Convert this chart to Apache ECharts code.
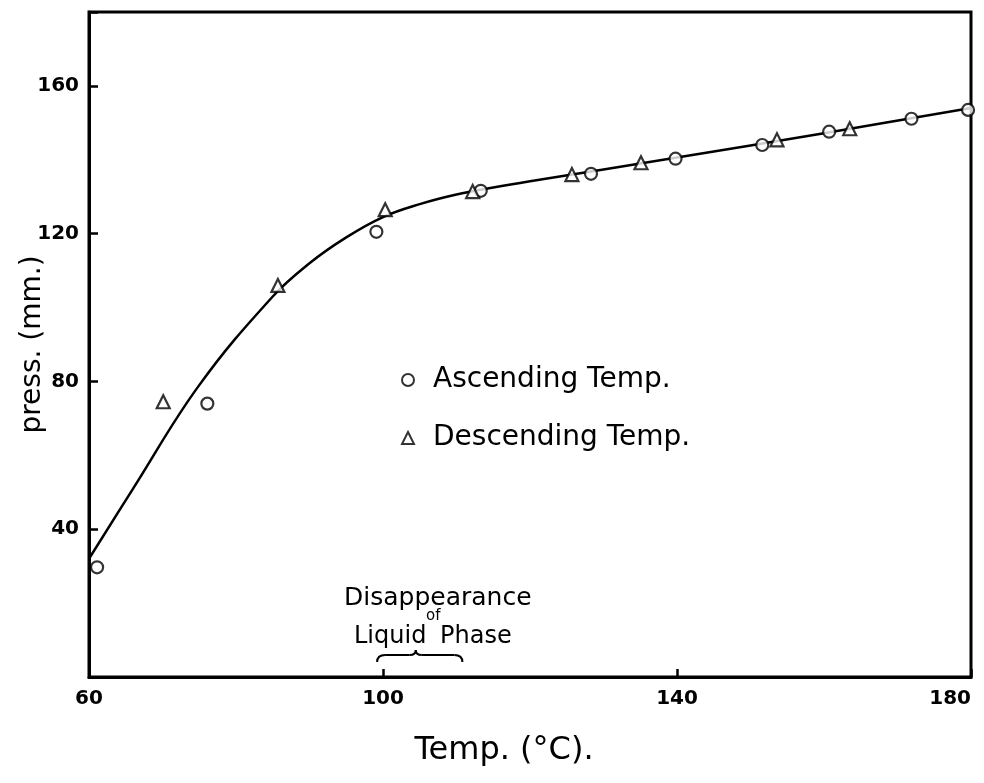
<!DOCTYPE html>
<html>
<head>
<meta charset="utf-8">
<script src="https://cdn.jsdelivr.net/npm/echarts@6/dist/echarts.min.js"></script>
<style>
html,body{margin:0;padding:0;background:#fff;}
#chart{width:984px;height:783px;}
</style>
</head>
<body>
<div id="chart"></div>
<script>
// Ascending temperature measurements [temp °C, pressure mm]
const ascendingTemp = [61.1, 76.1, 99.1, 113.3, 128.3, 139.8, 151.6, 160.7, 171.9, 179.6];
const ascendingPress = [29.7, 74.0, 120.5, 131.6, 136.2, 140.3, 144.0, 147.6, 151.1, 153.5];
// Descending temperature measurements
const descendingTemp = [70.1, 85.7, 100.3, 112.2, 125.7, 135.1, 153.6, 163.5];
const descendingPress = [74.5, 106.0, 126.5, 131.4, 136.0, 139.2, 145.4, 148.4];
// Hand-drawn fitted curve
const curveTemp = [60, 66, 75, 85, 90, 95, 100, 105, 110, 115, 120, 140, 160, 180];
const curvePress = [32, 51, 79, 103, 112, 119, 124.5, 128, 130.6, 132.5, 134.2, 140.6, 147.2, 154];
// Axis ticks
const xTicks = [60, 100, 140, 180];
const yTicks = [40, 80, 120, 160];
// Liquid phase disappearance range (brace)
const braceRange = [99.2, 110.8];

const zip = (a, b) => a.map((v, i) => [v, b[i]]);
const chart = echarts.init(document.getElementById('chart'));
const font = '"DejaVu Sans", sans-serif';

chart.setOption({
  animation: false,
  backgroundColor: '#fff',
  grid: { left: 89, right: 13, top: 12, bottom: 106, show: true, borderColor: '#000', borderWidth: 3,
    backgroundColor: 'transparent', containLabel: false, outerBoundsMode: 'none' },
  legend: {
    orient: 'vertical', left: 396, top: 361, itemGap: 30, itemWidth: 12, itemHeight: 12,
    textStyle: { fontFamily: font, fontSize: 28, color: '#000', padding: [0, 0, 0, 14] },
    data: [
      { name: 'Ascending Temp.', icon: 'circle', itemStyle: { color: '#fff', borderColor: '#000', borderWidth: 2 } },
      { name: 'Descending Temp.', icon: 'triangle', itemStyle: { color: '#fff', borderColor: '#000', borderWidth: 2 } }
    ]
  },
  xAxis: {
    type: 'value', min: 60, max: 180, interval: 40,
    name: 'Temp. (°C).', nameLocation: 'middle', nameGap: 58, nameMoveOverlap: false,
    nameTextStyle: { fontFamily: font, fontSize: 32, color: '#000', padding: [0, 52, 0, 0] },
    axisLine: { show: true, lineStyle: { color: '#000', width: 3 } },
    axisTick: { show: true, inside: true, length: 8, lineStyle: { color: '#000', width: 2.5 } },
    axisLabel: { fontFamily: font, fontSize: 20, fontWeight: 'bold', color: '#000', margin: 12,
      alignMaxLabel: 'right',
      formatter: v => xTicks.includes(v) ? String(v) : '' },
    splitLine: { show: false }
  },
  yAxis: {
    type: 'value', min: 0, max: 180, interval: 40,
    name: 'press. (mm.)', nameLocation: 'middle', nameGap: 42, nameMoveOverlap: false,
    nameTextStyle: { fontFamily: font, fontSize: 28, color: '#000' },
    axisLine: { show: true, lineStyle: { color: '#000', width: 3 } },
    axisTick: { show: true, inside: true, length: 9, lineStyle: { color: '#000', width: 2.5 } },
    axisLabel: { fontFamily: font, fontSize: 20, fontWeight: 'bold', color: '#000', margin: 10,
      formatter: v => yTicks.includes(v) ? String(v) : '' },
    splitLine: { show: false }
  },
  series: [
    { name: 'curve', type: 'line', data: zip(curveTemp, curvePress), smooth: 0.4, showSymbol: false,
      lineStyle: { color: '#000', width: 2.5 }, z: 2, silent: true },
    { name: 'Ascending Temp.', type: 'scatter', data: zip(ascendingTemp, ascendingPress), symbol: 'circle', symbolSize: 12,
      itemStyle: { color: '#fff', borderColor: '#000', borderWidth: 2.2 }, z: 3 },
    { name: 'Descending Temp.', type: 'scatter', data: zip(descendingTemp, descendingPress), symbol: 'triangle', symbolSize: 13,
      itemStyle: { color: '#fff', borderColor: '#000', borderWidth: 2.2 }, z: 3 }
  ]
});

// annotation: brace under "Liquid Phase"
const p0 = chart.convertToPixel({ gridIndex: 0 }, [braceRange[0], 0]);
const p1 = chart.convertToPixel({ gridIndex: 0 }, [braceRange[1], 0]);
const xl = p0[0], xr = p1[0], xm = (xl + xr) / 2 - 4, yb = p0[1] - 15;
const bs = { stroke: '#000', lineWidth: 2, fill: null };
const brace = [
  { type: 'bezierCurve', shape: { x1: xl, y1: yb, x2: xl + 8, y2: yb - 7, cpx1: xl, cpy1: yb - 7 }, style: bs },
  { type: 'line', shape: { x1: xl + 8, y1: yb - 7, x2: xm - 6, y2: yb - 7 }, style: bs },
  { type: 'bezierCurve', shape: { x1: xm - 6, y1: yb - 7, x2: xm, y2: yb - 12, cpx1: xm, cpy1: yb - 7 }, style: bs },
  { type: 'bezierCurve', shape: { x1: xm, y1: yb - 12, x2: xm + 6, y2: yb - 7, cpx1: xm, cpy1: yb - 7 }, style: bs },
  { type: 'line', shape: { x1: xm + 6, y1: yb - 7, x2: xr - 8, y2: yb - 7 }, style: bs },
  { type: 'bezierCurve', shape: { x1: xr - 8, y1: yb - 7, x2: xr, y2: yb, cpx1: xr, cpy1: yb - 7 }, style: bs }
];

chart.setOption({
  graphic: [
    { type: 'text', x: 344, y: 586, style: { text: 'Disappearance', font: '25px ' + font, fill: '#000' } },
    { type: 'text', x: 426, y: 609, style: { text: 'of', font: '15px ' + font, fill: '#000' } },
    { type: 'text', x: 354, y: 625, style: { text: 'Liquid', font: '24px ' + font, fill: '#000' } },
    { type: 'text', x: 440, y: 625, style: { text: 'Phase', font: '24px ' + font, fill: '#000' } }
  ].concat(brace)
});
</script>
</body>
</html>
